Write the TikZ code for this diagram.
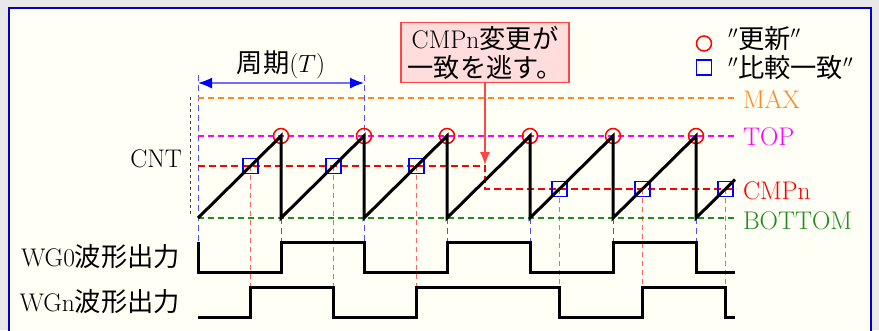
\documentclass[tikz,border=0pt]{standalone}
\usepackage{fontspec}
\newfontfamily\jp{Noto Sans CJK JP}[Scale=1.03]
\usetikzlibrary{arrows.meta}
\definecolor{bggray}{RGB}{232,232,232}
\definecolor{ivorybg}{RGB}{255,255,246}
\definecolor{frameblue}{RGB}{0,0,205}
\definecolor{maxorange}{RGB}{255,136,34}
\definecolor{topmag}{RGB}{255,0,255}
\definecolor{botgreen}{RGB}{34,139,34}
\definecolor{cmpred}{RGB}{255,0,0}
\definecolor{lightred}{RGB}{255,100,100}
\definecolor{dimblue}{RGB}{110,110,255}
\definecolor{guideblue}{RGB}{80,80,255}
\definecolor{notefill}{RGB}{255,221,221}
\definecolor{noteborder}{RGB}{255,70,70}
\tikzset{
  lvl/.style={dash pattern=on 6pt off 4pt, line width=1.6pt},
  guide/.style={guideblue, dash pattern=on 6pt off 4pt, line width=1pt},
  mguide/.style={lightred, dash pattern=on 5pt off 4pt, line width=1pt},
  wave/.style={line width=3pt},
  updmark/.style={circle, draw=red, line width=1.5pt, minimum size=15pt, inner sep=0pt},
  cmpmark/.style={rectangle, draw=blue, line width=1.5pt, minimum size=15pt, inner sep=0pt},
  notebox/.style={draw=noteborder, fill=notefill, line width=1.2pt, minimum width=168pt, minimum height=60pt, align=center, font=\fontsize{25.5}{29}\selectfont},
}
\begin{document}
\begin{tikzpicture}[x=1pt,y=-1pt, font=\fontsize{25.5}{29}\selectfont, every node/.style={inner sep=0pt, outer sep=0pt}]
\useasboundingbox (0,0) rectangle (879,330);
\clip (0,0) rectangle (879,330);
\fill[bggray] (0,0) rectangle (879,330);
\draw[frameblue, line width=2pt, fill=ivorybg] (9,7.5) rectangle (871,345);

% guides
\foreach \x in {198,364} \draw[guide] (\x,75) -- (\x,272);
\foreach \x in {281,447,530,613,696} \draw[guide] (\x,218) -- (\x,242);
\foreach \x in {250.6,333.6,416.6} \draw[mguide] (\x,166) -- (\x,287);
\foreach \x in {559.4,642.4,725.4} \draw[mguide] (\x,189) -- (\x,287);

% left dotted range
\draw[black!75, dash pattern=on 3pt off 3pt, line width=1pt] (190,97) -- (190,216);

% levels
\draw[lvl, maxorange] (198,98) -- (736,98);
\draw[lvl, topmag] (198,136) -- (736,136);
\draw[lvl, botgreen] (198,218) -- (736,218);
\draw[cmpred, line width=2.4pt, dash pattern=on 7pt off 4pt] (198,166) -- (485,166) -- (485,189) -- (736,189);

% markers
\foreach \x [count=\i] in {281,364,447,530,613,696} \node[updmark] (u\i) at (\x,136) {};
\foreach \x [count=\i] in {250.6,333.6,416.6} \node[cmpmark] (ca\i) at (\x,166) {};
\foreach \x [count=\i] in {559.4,642.4,725.4} \node[cmpmark] (cb\i) at (\x,189) {};

% sawtooth
\draw[wave] (198,218) -- (281,136) -- (281,218) -- (364,136) -- (364,218) -- (447,136) -- (447,218)
  -- (530,136) -- (530,218) -- (613,136) -- (613,218) -- (696,136) -- (696,218) -- (735,179.5);

% WG0
\draw[wave] (198,242) -- (198,272) -- (281,272) -- (281,242) -- (364,242) -- (364,272) -- (447,272)
  -- (447,242) -- (530,242) -- (530,272) -- (613,272) -- (613,242) -- (696,242) -- (696,272) -- (735,272);
% WGn
\draw[wave] (198,317) -- (250.6,317) -- (250.6,287) -- (333.6,287) -- (333.6,317) -- (416.6,317)
  -- (416.6,287) -- (559.4,287) -- (559.4,317) -- (642.4,317) -- (642.4,287) -- (725.4,287) -- (725.4,317) -- (735,317);

% period dimension
\coordinate (dimL) at (198,83);
\coordinate (dimR) at (364,83);
\draw[dimblue, line width=1.5pt, {Latex[length=14pt,width=11pt,color=blue]}-{Latex[length=14pt,width=11pt,color=blue]}] (dimL) -- (dimR);
\node[anchor=base] (plabel) at (281,72) {{\jp 周期}($T$)};

% note
\node[notebox] (note) at (485,52.5) {CMPn{\jp 変更が}\\{\jp 一致を逃す。}};
\coordinate (tip) at (485,165);
\draw[noteborder, line width=1.2pt, -{Latex[length=13pt,width=10pt]}] (note.south) -- (tip);

% left labels
\node[anchor=base east] (cnt) at (182,167) {CNT};
\node[anchor=base east] (wg0) at (180,266.5) {WG0{\jp 波形出力}};
\node[anchor=base east] (wgn) at (180,311.5) {WGn{\jp 波形出力}};

% right labels
\node[anchor=base west, text=maxorange] (lmax) at (743,108) {MAX};
\node[anchor=base west, text=topmag] (ltop) at (743,145) {TOP};
\node[anchor=base west, text=cmpred] (lcmp) at (743,199) {CMPn};
\node[anchor=base west, text=botgreen] (lbot) at (743,229) {BOTTOM};

% legend
\node[updmark] (legu) at (704,43.5) {};
\node[anchor=base west] (legut) at (728,48) {$''${\jp 更新}$''$};
\node[cmpmark] (legc) at (704,67.5) {};
\node[anchor=base west] (legct) at (728,77) {$''${\jp 比較一致}$''$};
\end{tikzpicture}
\end{document}
